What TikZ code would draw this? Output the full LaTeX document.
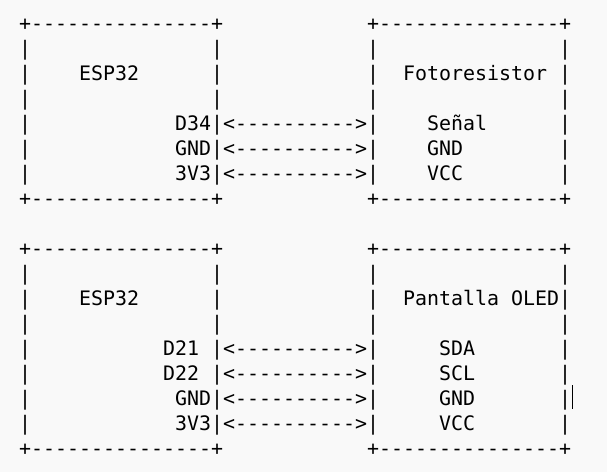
\documentclass[tikz,border=0pt]{standalone}
\usepackage{fontspec}
\setmonofont{DejaVu Sans Mono}
\usepackage{tikz}
\usetikzlibrary{backgrounds, positioning}
\tikzset{
    ascii/.style = {draw=none, fill=none, rectangle, inner sep=0pt, anchor=base west,
      text=black, font=\ttfamily\fontsize{19.93pt}{25pt}\selectfont},
    cursor/.style = {black, line width=0.9pt}
}
\definecolor{paper}{RGB}{249, 249, 249}

\begin{document}
\begin{tikzpicture}
\fill[paper] (0pt,0pt) rectangle (607pt,-472pt);
\useasboundingbox (0pt,0pt) rectangle (607pt,-472pt);

\begin{scope}[x=12pt, y=-25pt, shift={(19pt,-30pt)}]
% ESP32 <-> Fotoresistor
\node[ascii, name=topA] at (0,0) {+---------------+};
\node[ascii, name=topB] at (29,0) {+---------------+};
\node[ascii] at (0,1) {|}; \node[ascii] at (16,1) {|};
\node[ascii] at (29,1) {|}; \node[ascii] at (45,1) {|};
\node[ascii] at (0,2) {|}; \node[ascii, name=espA] at (5,2) {ESP32};
\node[ascii] at (16,2) {|}; \node[ascii] at (29,2) {|};
\node[ascii, name=foto] at (32,2) {Fotoresistor}; \node[ascii] at (45,2) {|};
\node[ascii] at (0,3) {|}; \node[ascii] at (16,3) {|};
\node[ascii] at (29,3) {|}; \node[ascii] at (45,3) {|};
\node[ascii] at (0,4) {|}; \node[ascii, name=d34] at (13,4) {D34|<---------->|};
\node[ascii, name=senal] at (34,4) {Señal}; \node[ascii] at (45,4) {|};
\node[ascii] at (0,5) {|}; \node[ascii, name=gndA] at (13,5) {GND|<---------->|};
\node[ascii, name=gndF] at (34,5) {GND}; \node[ascii] at (45,5) {|};
\node[ascii] at (0,6) {|}; \node[ascii, name=vA] at (13,6) {3V3|<---------->|};
\node[ascii, name=vccF] at (34,6) {VCC}; \node[ascii] at (45,6) {|};
\node[ascii, name=botA] at (0,7) {+---------------+};
\node[ascii, name=botB] at (29,7) {+---------------+};

% ESP32 <-> Pantalla OLED
\node[ascii, name=topC] at (0,9) {+---------------+};
\node[ascii, name=topD] at (29,9) {+---------------+};
\node[ascii] at (0,10) {|}; \node[ascii] at (16,10) {|};
\node[ascii] at (29,10) {|}; \node[ascii] at (45,10) {|};
\node[ascii] at (0,11) {|}; \node[ascii, name=espB] at (5,11) {ESP32};
\node[ascii] at (16,11) {|}; \node[ascii] at (29,11) {|};
\node[ascii, name=oled] at (32,11) {Pantalla OLED|};
\node[ascii] at (0,12) {|}; \node[ascii] at (16,12) {|};
\node[ascii] at (29,12) {|}; \node[ascii] at (45,12) {|};
\node[ascii] at (0,13) {|}; \node[ascii, name=d21] at (12,13) {D21};
\node[ascii] at (16,13) {|<---------->|};
\node[ascii, name=sda] at (35,13) {SDA}; \node[ascii] at (45,13) {|};
\node[ascii] at (0,14) {|}; \node[ascii, name=d22] at (12,14) {D22};
\node[ascii] at (16,14) {|<---------->|};
\node[ascii, name=scl] at (35,14) {SCL}; \node[ascii] at (45,14) {|};
\node[ascii] at (0,15) {|}; \node[ascii, name=gndB] at (13,15) {GND|<---------->|};
\node[ascii, name=gndO] at (35,15) {GND}; \node[ascii, name=barO] at (45,15) {|};
\node[ascii] at (0,16) {|}; \node[ascii, name=vB] at (13,16) {3V3|<---------->|};
\node[ascii, name=vccO] at (35,16) {VCC}; \node[ascii] at (45,16) {|};
\node[ascii, name=botC] at (0,17) {+---------------+};
\node[ascii, name=botD] at (29,17) {+---------------+};
\end{scope}

% text cursor
\draw[cursor] (572pt,-385pt) -- (572pt,-409pt);
\end{tikzpicture}
\end{document}
